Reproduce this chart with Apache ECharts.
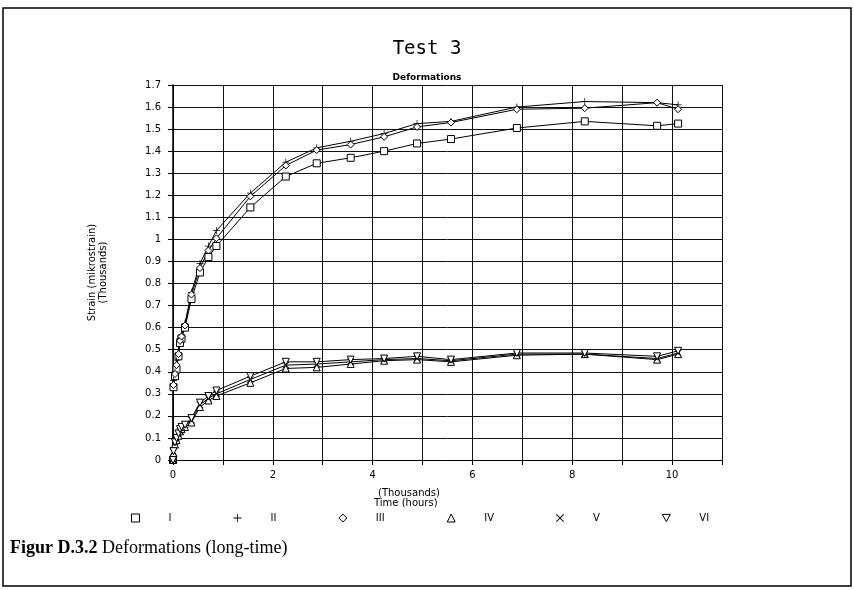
<!DOCTYPE html>
<html>
<head>
<meta charset="utf-8">
<style>
  html, body { margin: 0; padding: 0; background: #fff; }
</style>
</head>
<body>
<div id="main" style="width: 854px; height: 590px"></div>
<script src="https://cdn.jsdelivr.net/npm/echarts@6/dist/echarts.min.js"></script>
<script>
  var chartDom = document.getElementById('main');
  var myChart = echarts.init(chartDom);
  var option;

  // time in thousands of hours
  const times = [0, 0.01, 0.04, 0.07, 0.11, 0.14, 0.17, 0.24, 0.37, 0.54, 0.71, 0.87,
    1.55, 2.26, 2.88, 3.56, 4.23, 4.89, 5.57, 6.89, 8.25, 9.7, 10.12];

  // strain in thousands of mikrostrain
  const s1 = [0, 0.33, 0.38, 0.41, 0.47, 0.53, 0.55, 0.6, 0.73, 0.85, 0.92, 0.97,
    1.145, 1.285, 1.345, 1.37, 1.40, 1.435, 1.455, 1.505, 1.535, 1.515, 1.525];
  const s2 = [0, 0.36, 0.40, 0.45, 0.50, 0.55, 0.57, 0.62, 0.76, 0.89, 0.97, 1.04,
    1.21, 1.35, 1.415, 1.445, 1.48, 1.525, 1.535, 1.60, 1.625, 1.62, 1.61];
  const s3 = [0, 0.34, 0.39, 0.43, 0.48, 0.54, 0.56, 0.61, 0.75, 0.87, 0.95, 1.005,
    1.195, 1.335, 1.405, 1.43, 1.465, 1.51, 1.53, 1.59, 1.595, 1.62, 1.59];
  const s4 = [0, 0.03, 0.07, 0.09, 0.11, 0.13, 0.14, 0.15, 0.17, 0.24, 0.27, 0.29,
    0.35, 0.415, 0.42, 0.435, 0.45, 0.455, 0.445, 0.475, 0.48, 0.455, 0.48];
  const s5 = [0, 0.035, 0.08, 0.10, 0.12, 0.13, 0.15, 0.16, 0.18, 0.25, 0.28, 0.30,
    0.365, 0.43, 0.435, 0.445, 0.455, 0.46, 0.45, 0.48, 0.48, 0.46, 0.485];
  const s6 = [0, 0.04, 0.08, 0.10, 0.12, 0.14, 0.15, 0.16, 0.19, 0.26, 0.29, 0.315,
    0.38, 0.445, 0.445, 0.455, 0.46, 0.47, 0.455, 0.485, 0.485, 0.47, 0.495];

  const names = ['I', 'II', 'III', 'IV', 'V', 'VI'];
  const values = [s1, s2, s3, s4, s5, s6];

  const plus = 'path://M4.5,0h1v4.5h4.5v1h-4.5v4.5h-1v-4.5h-4.5v-1h4.5z';
  const cross = 'path://M0,0.8L0.8,0L5,4.2L9.2,0L10,0.8L5.8,5L10,9.2L9.2,10L5,5.8L0.8,10L0,9.2L4.2,5Z';
  const triDown = 'path://M0,0L10,0L5,9Z';
  const symbols = ['rect', plus, 'diamond', 'triangle', cross, triDown];
  const filled = [false, true, false, false, true, false];

  const font = 'DejaVu Sans';

  function markStyle(i) {
    return filled[i]
      ? { color: '#000', borderWidth: 0 }
      : { color: '#fff', borderColor: '#000', borderWidth: 1 };
  }

  option = {
    backgroundColor: '#fff',
    animation: false,
    title: [
      {
        text: 'Test 3',
        left: 'center',
        top: 35,
        textStyle: { fontFamily: 'DejaVu Sans Mono', fontSize: 19, fontWeight: 'normal', color: '#000' },
      },
      {
        text: 'Deformations',
        left: 'center',
        top: 68,
        textStyle: { fontFamily: font, fontSize: 9, fontWeight: 'bold', color: '#000' },
      },
    ],
    legend: {
      bottom: 62,
      left: 126,
      itemWidth: 8,
      itemHeight: 8,
      itemGap: 62,
      data: names.map((n, i) => ({ name: n, icon: symbols[i], itemStyle: markStyle(i) })),
      textStyle: { fontFamily: font, fontSize: 10, color: '#000', padding: [0, 0, 0, 24] },
    },
    grid: { left: 173, right: 132, top: 85, bottom: 130 },
    xAxis: {
      type: 'value',
      min: 0,
      max: 11,
      interval: 1,
      axisLine: { lineStyle: { color: '#000', width: 1 } },
      axisTick: { show: true, length: 5, lineStyle: { color: '#000' } },
      axisLabel: {
        color: '#000',
        fontFamily: font,
        fontSize: 10,
        margin: 10,
        formatter: (v) => (v % 2 === 0 && v <= 10 ? String(v) : ''),
      },
      splitLine: { show: true, lineStyle: { color: '#111', width: 1 } },
    },
    yAxis: {
      type: 'value',
      min: 0,
      max: 1.7,
      interval: 0.1,
      name: 'Strain (mikrostrain)\n(Thousands)',
      nameLocation: 'middle',
      nameGap: 64,
      nameTextStyle: { fontFamily: font, fontSize: 10, color: '#000', lineHeight: 11 },
      axisLine: { show: true, lineStyle: { color: '#000', width: 1.5 } },
      axisTick: { show: true, length: 5, lineStyle: { color: '#000' } },
      axisLabel: {
        color: '#000',
        fontFamily: font,
        fontSize: 10,
        margin: 12,
        formatter: (v) => String(Math.round(v * 10) / 10),
      },
      splitLine: { show: true, lineStyle: { color: '#111', width: 1 } },
    },
    graphic: [
      {
        type: 'rect',
        shape: { x: 3, y: 8, width: 848, height: 578 },
        style: { fill: 'none', stroke: '#000', lineWidth: 1.5 },
        silent: true,
      },
      {
        type: 'text',
        left: 378,
        top: 488,
        style: { text: '(Thousands)', font: '10px "DejaVu Sans"', fill: '#000' },
      },
      {
        type: 'text',
        left: 374,
        top: 498,
        style: { text: 'Time (hours)', font: '10px "DejaVu Sans"', fill: '#000' },
      },
      {
        type: 'text',
        left: 10,
        top: 539,
        style: {
          text: '{b|Figur D.3.2} Deformations (long-time)',
          rich: {
            b: { font: 'bold 18px "Liberation Serif"', fill: '#000' },
          },
          font: '18px "Liberation Serif"',
          fill: '#000',
        },
      },
    ],
    series: names.map((n, i) => ({
      name: n,
      type: 'line',
      data: times.map((t, k) => [t, values[i][k]]),
      symbol: symbols[i],
      symbolSize: 7,
      showAllSymbol: true,
      itemStyle: markStyle(i),
      lineStyle: { color: '#000', width: 1 },
      emphasis: { disabled: true },
    })),
  };

  option && myChart.setOption(option);

  window.onresize = function () {
    myChart.resize();
  };
</script>
</body>
</html>
